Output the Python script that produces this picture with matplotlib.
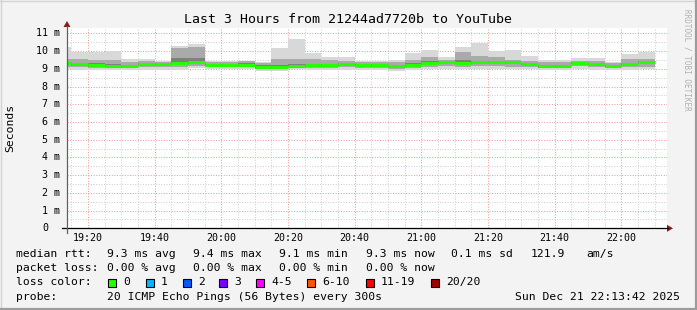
import matplotlib
matplotlib.use("Agg")
import matplotlib.pyplot as plt
from matplotlib.patches import Rectangle, Polygon
from matplotlib.lines import Line2D
import numpy as np

# ---------------- data ----------------
bin_starts = ["19:10", "19:15", "19:20", "19:25", "19:30", "19:35", "19:40", "19:45", "19:50",
              "19:55", "20:00", "20:05", "20:10", "20:15", "20:20", "20:25", "20:30", "20:35",
              "20:40", "20:45", "20:50", "20:55", "21:00", "21:05", "21:10", "21:15", "21:20",
              "21:25", "21:30", "21:35", "21:40", "21:45", "21:50", "21:55", "22:00", "22:05"]
rtt_median = [9.31, 9.25, 9.21, 9.17, 9.17, 9.28, 9.28, 9.34, 9.36, 9.23, 9.23, 9.23, 9.12, 9.12,
              9.17, 9.21, 9.21, 9.27, 9.23, 9.23, 9.17, 9.21, 9.34, 9.38, 9.34, 9.36, 9.38, 9.38,
              9.28, 9.15, 9.15, 9.34, 9.28, 9.15, 9.25, 9.36]
rtt_max = [10.24, 9.96, 9.96, 10.00, 9.53, 9.53, 9.45, 10.28, 10.40, 9.45, 9.45, 9.45, 9.38, 10.19,
           10.68, 9.90, 9.68, 9.64, 9.43, 9.45, 9.47, 9.90, 10.06, 9.64, 10.24, 10.47, 10.00, 10.06,
           9.72, 9.49, 9.49, 9.59, 9.59, 9.40, 9.83, 9.96]
rtt_min = [8.98, 8.96, 8.96, 8.95, 8.93, 8.95, 8.95, 8.96, 9.02, 9.00, 9.00, 9.00, 8.89, 8.89, 8.97,
           8.95, 8.93, 8.95, 8.96, 8.93, 8.90, 8.96, 9.00, 8.98, 8.97, 9.00, 8.98, 8.97, 8.98, 8.93,
           8.93, 8.98, 8.96, 8.95, 8.96, 8.97]
rtt_p10 = [9.10, 9.08, 9.05, 9.03, 9.02, 9.08, 9.10, 9.12, 9.15, 9.10, 9.10, 9.10, 8.98, 9.00, 9.02,
           9.05, 9.05, 9.08, 9.05, 9.02, 9.00, 9.05, 9.10, 9.15, 9.12, 9.15, 9.15, 9.12, 9.08, 9.02,
           9.02, 9.15, 9.10, 9.02, 9.08, 9.12]
rtt_p90 = [9.58, 9.53, 9.49, 9.49, 9.40, 9.43, 9.40, 10.15, 10.24, 9.40, 9.38, 9.43, 9.34, 9.53, 9.58,
           9.53, 9.49, 9.45, 9.38, 9.38, 9.38, 9.49, 9.64, 9.49, 9.96, 9.75, 9.68, 9.49, 9.45, 9.40,
           9.40, 9.45, 9.45, 9.32, 9.53, 9.58]
rtt_q1 = [9.22, 9.17, 9.12, 9.10, 9.09, 9.20, 9.20, 9.26, 9.28, 9.15, 9.16, 9.15, 9.05, 9.06, 9.09,
          9.13, 9.13, 9.19, 9.15, 9.10, 9.09, 9.13, 9.24, 9.30, 9.26, 9.28, 9.30, 9.28, 9.20, 9.07,
          9.07, 9.27, 9.20, 9.08, 9.17, 9.28]
rtt_q3 = [9.38, 9.33, 9.30, 9.26, 9.24, 9.34, 9.33, 9.60, 9.62, 9.29, 9.28, 9.30, 9.20, 9.24, 9.26,
          9.28, 9.28, 9.33, 9.29, 9.28, 9.24, 9.30, 9.42, 9.45, 9.50, 9.46, 9.46, 9.45, 9.35, 9.22,
          9.22, 9.40, 9.35, 9.22, 9.33, 9.44]
x_tick_labels = ["19:20", "19:40", "20:00", "20:20", "20:40", "21:00", "21:20", "21:40", "22:00"]
y_tick_values = [0, 1, 2, 3, 4, 5, 6, 7, 8, 9, 10, 11]
y_tick_labels = ["0", "1 m", "2 m", "3 m", "4 m", "5 m", "6 m", "7 m", "8 m", "9 m", "10 m", "11 m"]
loss_labels = ["0", "1", "2", "3", "4-5", "6-10", "11-19", "20/20"]
loss_colors = ["#26ff00", "#00b8ff", "#0059ff", "#7e00ff", "#ff00ff", "#ff5500", "#ff0000", "#a10000"]
title = "Last 3 Hours from 21244ad7720b to YouTube"
legend_rows = [
    ["median rtt:", "9.3 ms avg", "9.4 ms max", "9.1 ms min", "9.3 ms now", "0.1 ms sd", "121.9", "am/s"],
    ["packet loss:", "0.00 % avg", "0.00 % max", "0.00 % min", "0.00 % now"],
]
probe_text = "20 ICMP Echo Pings (56 Bytes) every 300s"
date_text = "Sun Dec 21 22:13:42 2025"


def to_min(s):
    h, m = s.split(":")
    return (int(h) - 19) * 60 + int(m)


# ---------------- figure ----------------
W, H = 697, 310
MONO = "DejaVu Sans Mono"
fig = plt.figure(figsize=(W / 100, H / 100), dpi=100)
fig.patch.set_facecolor("#f3f3f3")


def fx(px):
    return px / W


def fy(py):
    return 1 - py / H


# frame
fig.add_artist(Line2D([0, 1], [fy(0.5), fy(0.5)], transform=fig.transFigure, color="#d4d4d4", lw=1))
fig.add_artist(Line2D([fx(0.5), fx(0.5)], [0, 1], transform=fig.transFigure, color="#d4d4d4", lw=1))
fig.add_artist(Line2D([0, 1], [fy(309), fy(309)], transform=fig.transFigure, color="#9c9c9c", lw=1.6))
fig.add_artist(Line2D([fx(696), fx(696)], [0, 1], transform=fig.transFigure, color="#9c9c9c", lw=1.6))

x0p, x1p, y0p, y1p = 67, 667, 228.3, 27.7
ax = fig.add_axes([fx(x0p), fy(y0p), (x1p - x0p) / W, (y0p - y1p) / H])
ax.set_facecolor("white")
for s in ax.spines.values():
    s.set_visible(False)
xmin, xmax = 13.7, 193.7
ax.set_xlim(xmin, xmax)
ax.set_ylim(0, 11.32)

# grid
red = "#f2a0a0"
gray = "#d2d2d2"
for t in range(15, 194, 5):
    ax.axvline(t, color=red if t % 20 == 0 else gray, lw=0.75, ls=(0, (1, 1.5)), zorder=0)
for v in np.arange(0.5, 11.3, 0.5):
    ax.axhline(v, color=red if abs(v - round(v)) < 1e-9 else gray, lw=0.75, ls=(0, (1, 1.5)), zorder=0)

# data
starts = np.array([to_min(s) for s in bin_starts], dtype=float)
edges = np.append(starts, starts[-1] + 5)


def ext(a):
    a = list(a)
    return np.array(a + [a[-1]])


ax.fill_between(edges, ext(rtt_min), ext(rtt_max), step="post", color="#d8d8d8", lw=0, zorder=2)
ax.fill_between(edges, ext(rtt_p10), ext(rtt_p90), step="post", color="#aaaaaa", lw=0, zorder=3)
ax.fill_between(edges, ext(rtt_q1), ext(rtt_q3), step="post", color="#808080", lw=0, zorder=4)
ax.hlines(rtt_median, starts, starts + 5, color=loss_colors[0], lw=2.2, zorder=5)

ax.set_xticks([])
ax.set_yticks([])

# axis lines and arrows
fig.add_artist(Line2D([fx(62), fx(668)], [fy(228.3), fy(228.3)], transform=fig.transFigure, color="black", lw=0.9))
fig.add_artist(Line2D([fx(67), fx(67)], [fy(233), fy(26)], transform=fig.transFigure, color="#606060", lw=0.9))
fig.add_artist(Polygon([[fx(667), fy(224.8)], [fx(667), fy(231.8)], [fx(673), fy(228.3)]],
                       closed=True, transform=fig.transFigure, color="#8b1a1a", lw=0))
fig.add_artist(Polygon([[fx(63.5), fy(27)], [fx(70.5), fy(27)], [fx(67), fy(21)]],
                       closed=True, transform=fig.transFigure, color="#8b1a1a", lw=0))

# tick labels
for lab in x_tick_labels:
    t = to_min(lab)
    xp = x0p + (t - xmin) / (xmax - xmin) * (x1p - x0p)
    fig.text(fx(xp), fy(238), lab, ha="center", va="center", family=MONO, fontsize=7.2)
for v, lab in zip(y_tick_values, y_tick_labels):
    yp = y0p - v / 11.32 * (y0p - y1p)
    right = 60 if v != 0 else 48
    fig.text(fx(right), fy(yp), lab, ha="right", va="center", family=MONO, fontsize=7.2)

# titles
fig.text(fx(347.7), fy(19.3), title, ha="center", va="center", family=MONO, fontsize=9.5)
fig.text(fx(10.7), fy(127.5), "Seconds", ha="center", va="center", rotation=90, family=MONO, fontsize=8.2)
fig.text(fx(687.5), fy(60), "RRDTOOL / TOBI OETIKER", ha="center", va="center", rotation=270,
         family=MONO, fontsize=5.5, color="#b0b0b0")

# legend
col_x = [16, 107, 193, 279, 366, 451, 531, 586]
row_y = [254.3, 268.3]
for r, row in enumerate(legend_rows):
    for c, txt in enumerate(row):
        fig.text(fx(col_x[c]), fy(row_y[r]), txt, ha="left", va="center", family=MONO, fontsize=8.2)

fig.text(fx(16), fy(282.3), "loss color:", ha="left", va="center", family=MONO, fontsize=8.2)
box_x = [108.3, 145.7, 182.7, 219.3, 256, 307.3, 365.7, 430.7]
for bx, lab, col in zip(box_x, loss_labels, loss_colors):
    fig.add_artist(Rectangle((fx(bx), fy(286.5)), 8 / W, 8 / H, transform=fig.transFigure,
                             facecolor=col, edgecolor="black", lw=0.8))
    fig.text(fx(bx + 15), fy(282.3), lab, ha="left", va="center", family=MONO, fontsize=8.2)

fig.text(fx(16), fy(296.7), "probe:", ha="left", va="center", family=MONO, fontsize=8.2)
fig.text(fx(107), fy(296.7), probe_text, ha="left", va="center", family=MONO, fontsize=8.2)
fig.text(fx(680), fy(296.7), date_text, ha="right", va="center", family=MONO, fontsize=8.2)

fig.savefig("out.png", dpi=100, facecolor=fig.get_facecolor())
